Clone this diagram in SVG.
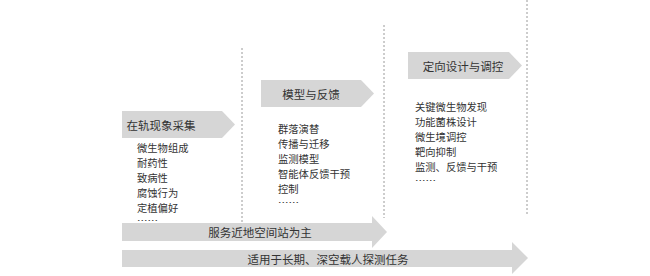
<svg xmlns="http://www.w3.org/2000/svg" width="650" height="276" viewBox="0 0 650 276">
<style>
.t{font-family:"Noto Sans CJK SC","Noto Sans",sans-serif;font-size:11.5px;fill:#333}
.l{font-size:10.3px}
.d{font-size:8px}
.c{text-anchor:middle;dominant-baseline:central}
.shape{fill:#d6d6d6}
.dash{stroke:#9a9a9a;stroke-width:1;stroke-dasharray:2 2;fill:none}
</style>
<rect width="650" height="276" fill="#ffffff"/>
<g id="dividers">
<line class="dash" x1="242" y1="48" x2="242" y2="222"/>
<line class="dash" x1="384" y1="25" x2="384" y2="218"/>
<line class="dash" x1="527" y1="0" x2="527" y2="215"/>
</g>
<g id="stage1">
<polygon class="shape" points="122,111 222,111 235,124.5 222,138 122,138"/>
<text class="t c" x="161" y="124.5">在轨现象采集</text>
<text class="t l" x="137" y="152"><tspan x="137">微生物组成</tspan><tspan x="137" dy="15">耐药性</tspan><tspan x="137" dy="15">致病性</tspan><tspan x="137" dy="15">腐蚀行为</tspan><tspan x="137" dy="15">定植偏好</tspan></text>
<text class="t d" x="137" y="224" textLength="21" lengthAdjust="spacingAndGlyphs">……</text>
</g>
<g id="stage2">
<polygon class="shape" points="261,80 361,80 374,93.5 361,107 261,107"/>
<text class="t c" x="311" y="93.5">模型与反馈</text>
<text class="t l" x="278" y="133"><tspan x="278">群落演替</tspan><tspan x="278" dy="15">传播与迁移</tspan><tspan x="278" dy="15">监测模型</tspan><tspan x="278" dy="15">智能体反馈干预</tspan><tspan x="278" dy="15">控制</tspan></text>
<text class="t d" x="278" y="206" textLength="21" lengthAdjust="spacingAndGlyphs">……</text>
</g>
<g id="stage3">
<polygon class="shape" points="408,52 509,52 522,65.5 509,79 408,79"/>
<text class="t c" x="463" y="65.5">定向设计与调控</text>
<text class="t l" x="415" y="111"><tspan x="415">关键微生物发现</tspan><tspan x="415" dy="15">功能菌株设计</tspan><tspan x="415" dy="15">微生境调控</tspan><tspan x="415" dy="15">靶向抑制</tspan><tspan x="415" dy="15">监测、反馈与干预</tspan></text>
<text class="t d" x="415" y="184" textLength="21" lengthAdjust="spacingAndGlyphs">……</text>
</g>
<g id="connectors">
<g id="arrow1">
<polygon class="shape" points="122,223 372,223 372,216 387,232 372,248 372,241 122,241"/>
<text class="t c" x="260" y="232">服务近地空间站为主</text>
</g>
<g id="arrow2">
<polygon class="shape" points="122,250 512,250 512,242 528,258 512,274 512,267 122,267"/>
<text class="t c" x="328" y="258.5">适用于长期、深空载人探测任务</text>
</g>
</g>
</svg>
